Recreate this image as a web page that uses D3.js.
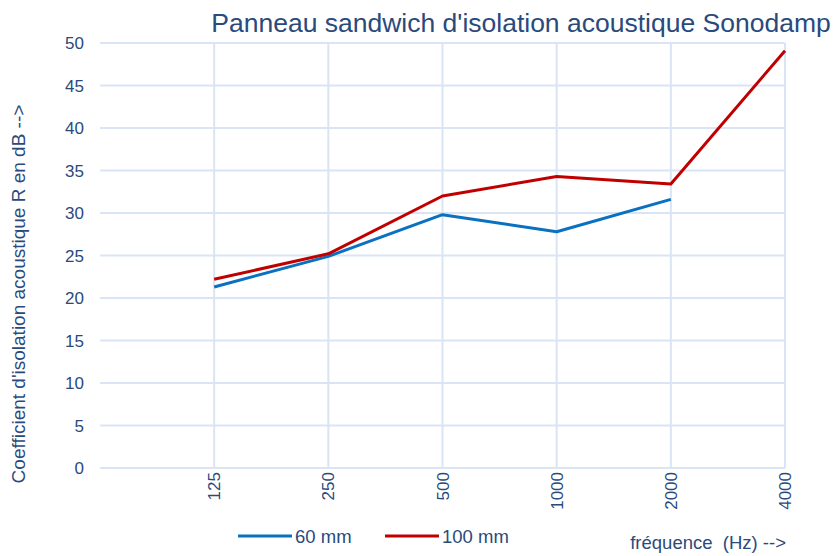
<!DOCTYPE html>
<html>
<head>
<meta charset="utf-8">
<script src="https://cdn.jsdelivr.net/npm/d3@7"></script>
<style>
  body { margin: 0; background: #fff; }
  text { font-family: "Liberation Sans", Arial, sans-serif; fill: #2a4a7c; }
</style>
</head>
<body>
<div id="chart"></div>
<script>
// Data
const frequencies = ["125", "250", "500", "1000", "2000", "4000"];
const values60 = [21.3, 24.9, 29.8, 27.8, 31.6, null];
const values100 = [22.2, 25.2, 32.0, 34.3, 33.4, 49.1];
const yTicks = [0, 5, 10, 15, 20, 25, 30, 35, 40, 45, 50];
const seriesNames = ["60 mm", "100 mm"];
const seriesColors = ["#0a70c0", "#c00000"];

const width = 837, height = 556;
const plot = { left: 100, right: 785, top: 43, bottom: 468 };
const step = (plot.right - plot.left) / 6;

const svg = d3.select("#chart").append("svg")
    .attr("width", width)
    .attr("height", height);

const xScale = d3.scalePoint()
    .domain(frequencies)
    .range([plot.left + step, plot.right]);

const yScale = d3.scaleLinear()
    .domain([0, 50])
    .range([plot.bottom, plot.top]);

const gridColor = "#d9e4f5";

// horizontal gridlines
svg.append("g").selectAll("line")
    .data(yTicks)
    .join("line")
    .attr("x1", plot.left)
    .attr("x2", plot.right)
    .attr("y1", d => yScale(d))
    .attr("y2", d => yScale(d))
    .attr("stroke", gridColor)
    .attr("stroke-width", 2);

// vertical gridlines at categories
svg.append("g").selectAll("line")
    .data(frequencies)
    .join("line")
    .attr("x1", d => xScale(d))
    .attr("x2", d => xScale(d))
    .attr("y1", plot.top)
    .attr("y2", plot.bottom)
    .attr("stroke", gridColor)
    .attr("stroke-width", 2);

// y tick labels
svg.append("g").selectAll("text")
    .data(yTicks)
    .join("text")
    .attr("x", 84)
    .attr("y", d => yScale(d) + 6)
    .attr("text-anchor", "end")
    .style("font-size", "17px")
    .text(d => d);

// x tick labels (rotated)
svg.append("g").selectAll("text")
    .data(frequencies)
    .join("text")
    .attr("transform", d => `translate(${xScale(d) + 6}, 472) rotate(-90)`)
    .attr("text-anchor", "end")
    .style("font-size", "17px")
    .text(d => d);

// title
svg.append("text")
    .attr("x", 521)
    .attr("y", 32)
    .attr("text-anchor", "middle")
    .style("font-size", "26.5px")
    .text("Panneau sandwich d'isolation acoustique Sonodamp");

// y axis label
svg.append("text")
    .attr("transform", "translate(25, 294) rotate(-90)")
    .attr("text-anchor", "middle")
    .style("font-size", "19px")
    .text("Coefficient d'isolation acoustique R en dB -->");

// x axis label
svg.append("text")
    .attr("x", 786)
    .attr("y", 549)
    .attr("text-anchor", "end")
    .attr("xml:space", "preserve")
    .style("white-space", "pre")
    .style("font-size", "18.5px")
    .text("fréquence  (Hz) -->");

// lines
const line = d3.line()
    .defined(d => d.v !== null)
    .x(d => xScale(d.f))
    .y(d => yScale(d.v));

[values60, values100].forEach((vals, i) => {
    svg.append("path")
        .datum(frequencies.map((f, j) => ({ f: f, v: vals[j] })))
        .attr("d", line)
        .attr("fill", "none")
        .attr("stroke", seriesColors[i])
        .attr("stroke-width", 3)
        .attr("stroke-linejoin", "round");
});

// legend
const legendX = [238, 385];
seriesNames.forEach((name, i) => {
    const g = svg.append("g").attr("transform", `translate(${legendX[i]}, 536)`);
    g.append("line")
        .attr("x1", 0)
        .attr("x2", 54)
        .attr("stroke", seriesColors[i])
        .attr("stroke-width", 3);
    g.append("text")
        .attr("x", 57)
        .attr("y", 6.5)
        .style("font-size", "18.5px")
        .text(name);
});
</script>
</body>
</html>
